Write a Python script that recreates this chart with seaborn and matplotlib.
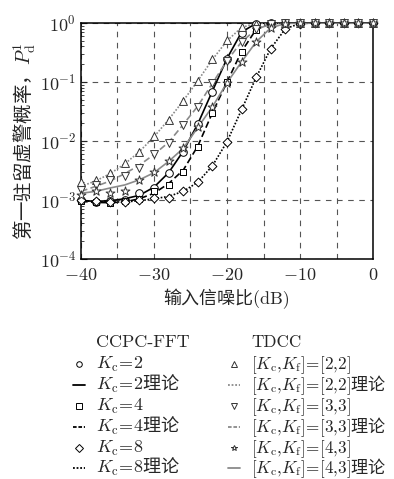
import numpy as np
import pandas as pd
import matplotlib
matplotlib.use("Agg")
import matplotlib.pyplot as plt
from matplotlib.lines import Line2D
from matplotlib.ticker import MultipleLocator, FuncFormatter, LogLocator
import seaborn as sns

sns.set_style("white")
plt.rcParams["font.family"] = ["cmr10", "Noto Sans CJK SC"]
plt.rcParams["mathtext.fontset"] = "custom"
plt.rcParams["mathtext.rm"] = "cmr10"
plt.rcParams["mathtext.it"] = "cmmi10"
plt.rcParams["mathtext.sf"] = "Noto Sans CJK SC"
plt.rcParams["mathtext.fallback"] = "cm"
plt.rcParams["axes.formatter.use_mathtext"] = True
plt.rcParams["axes.unicode_minus"] = True

# input SNR (dB)
snr = [-40, -38, -36, -34, -32, -30, -28, -26, -24, -22, -20,
       -18, -16, -14, -12, -10, -8, -6, -4, -2, 0]

# simulation, CCPC-FFT
kc2 = [0.001, 0.00093, 0.00097, 0.001, 0.0013, 0.0016, 0.0029, 0.0066, 0.0195, 0.069, 0.245,
       0.68, 0.98, 1, 1, 1, 1, 1, 1, 1, 1]
kc4 = [0.00095, 0.00092, 0.00089, 0.00095, 0.00105, 0.0014, 0.0018, 0.003, 0.008, 0.03, 0.1,
       0.32, 0.77, 0.97, 1, 1, 1, 1, 1, 1, 1]
kc8 = [0.001, 0.00095, 0.00092, 0.00094, 0.001, 0.00109, 0.0011, 0.0014, 0.002, 0.0038, 0.0097,
       0.035, 0.12, 0.36, 0.8, 0.97, 1, 1, 1, 1, 1]
# simulation, TDCC
t22 = [0.002, 0.0022, 0.0029, 0.0042, 0.0066, 0.012, 0.023, 0.048, 0.105, 0.245, 0.51,
       0.85, 0.98, 1, 1, 1, 1, 1, 1, 1, 1]
t33 = [0.0015, 0.0018, 0.0022, 0.0026, 0.0035, 0.006, 0.0093, 0.019, 0.038, 0.095, 0.23,
       0.48, 0.78, 0.96, 1, 1, 1, 1, 1, 1, 1]
t43 = [0.0012, 0.0014, 0.0013, 0.0014, 0.0022, 0.003, 0.0045, 0.0075, 0.017, 0.038, 0.097,
       0.22, 0.48, 0.83, 0.98, 1, 1, 1, 1, 1, 1]

# theory curves
kc2_th = [0.00098, 0.00095, 0.00097, 0.00105, 0.0012, 0.00165, 0.0029, 0.0067, 0.0195, 0.07, 0.25,
          0.7, 0.99, 1, 1, 1, 1, 1, 1, 1, 1]
kc4_th = [0.00095, 0.00091, 0.0009, 0.00093, 0.00105, 0.0013, 0.0019, 0.0032, 0.0082, 0.03, 0.1,
          0.33, 0.78, 0.98, 1, 1, 1, 1, 1, 1, 1]
kc8_th = [0.00098, 0.00094, 0.00092, 0.00093, 0.00097, 0.00105, 0.00115, 0.0014, 0.002, 0.0038, 0.0097,
          0.034, 0.12, 0.37, 0.8, 0.98, 1, 1, 1, 1, 1]
t22_th = [0.0017, 0.0021, 0.0028, 0.0041, 0.0066, 0.0118, 0.023, 0.048, 0.105, 0.24, 0.5,
          0.84, 0.99, 1, 1, 1, 1, 1, 1, 1, 1]
t33_th = [0.0014, 0.0017, 0.0021, 0.0028, 0.0039, 0.0059, 0.0095, 0.019, 0.039, 0.095, 0.23,
          0.48, 0.78, 0.96, 1, 1, 1, 1, 1, 1, 1]
t43_th = [0.0013, 0.0014, 0.0016, 0.0018, 0.0022, 0.0029, 0.0045, 0.0075, 0.017, 0.038, 0.097,
          0.22, 0.48, 0.83, 0.98, 1, 1, 1, 1, 1, 1]

W, H = 394, 479
fig = plt.figure(figsize=(W / 100, H / 100), dpi=100)
ax = fig.add_axes([81 / W, 1 - 259 / H, 292 / W, 236 / H])

grey = "#8a8a8a"
dk = "#333333"
dash = (0, (4, 2))
dot = (0, (1, 1))
theory = [
    (kc2_th, "black", "-"), (kc4_th, "black", dash), (kc8_th, "black", dot),
    (t22_th, grey, dot), (t33_th, grey, dash), (t43_th, grey, "-"),
]
for vals, c, ls in theory:
    sns.lineplot(x=snr, y=vals, ax=ax, color=c, linestyle=ls, linewidth=1.2, zorder=3)

sims = [
    (kc2, "o", "black", 30), (kc4, "s", "black", 24), (kc8, "D", "black", 20),
    (t22, "^", dk, 32), (t33, "v", dk, 32), (t43, "*", dk, 45),
]
for vals, m, c, s in sims:
    sns.scatterplot(x=snr, y=vals, ax=ax, marker=m, s=s, facecolor="white",
                    edgecolor=c, linewidth=0.7, zorder=4, clip_on=False)

ax.set_yscale("log")
ax.set_xlim(-40, 0)
ax.set_ylim(1e-4, 1)
ax.xaxis.set_major_locator(MultipleLocator(5))
ax.xaxis.set_major_formatter(FuncFormatter(
    lambda v, p: "$%d$" % v if abs(v % 10) < 1e-6 else ""))
ax.yaxis.set_minor_locator(LogLocator(base=10, subs=np.arange(2, 10)))
ax.tick_params(axis="x", length=0, labelsize=13, pad=6)
ax.tick_params(axis="y", which="major", direction="in", length=4, labelsize=13, left=True)
ax.tick_params(axis="y", which="minor", direction="in", length=2.5, left=True)
ax.grid(True, which="major", linestyle=(0, (5, 5)), color="#555555", linewidth=0.8)
for sp in ax.spines.values():
    sp.set_color("black")
    sp.set_linewidth(1.1)

ax.set_xlabel("输入信噪比(dB)", fontsize=13, labelpad=4)
ax.set_ylabel("$\\mathsf{第一驻留虚警概率，}P_\\mathrm{d}^{1}$", fontsize=14, labelpad=1)

# legend, laid out by hand in two titled columns
kc = "$K_\\mathrm{c}\\!=\\!%d%s$"
kk = "$[K_\\mathrm{c}{,}K_\\mathrm{f}]\\!=\\![%s]%s$"
th = "\\mathsf{理论}"
col1 = [("CCPC-FFT", None, None, None),
        (kc % (2, ""), "o", "none", "black"), (kc % (2, th), None, "-", "black"),
        (kc % (4, ""), "s", "none", "black"), (kc % (4, th), None, (0, (2, 1)), "black"),
        (kc % (8, ""), "D", "none", "black"), (kc % (8, th), None, dot, "black")]
col2 = [("TDCC", None, None, None),
        (kk % ("2{,}2", ""), "^", "none", dk), (kk % ("2{,}2", th), None, dot, grey),
        (kk % ("3{,}3", ""), "v", "none", dk), (kk % ("3{,}3", th), None, (0, (2, 1)), grey),
        (kk % ("4{,}3", ""), "*", "none", dk), (kk % ("4{,}3", th), None, "-", grey)]
rows = [342, 364, 385, 406, 427, 448, 468]
for col, hx, tx, fs in [(col1, 79, 96, 13), (col2, 234, 251, 12.3)]:
    for (lab, m, ls, c), y in zip(col, rows):
        fig.text(tx / W, 1 - (y + 5) / H, lab, fontsize=fs, va="baseline", ha="left")
        if c is None:
            continue
        if m is not None:
            fig.add_artist(Line2D([hx / W], [1 - y / H], marker=m, linestyle="none",
                                  markersize=4, markerfacecolor="white", markeredgecolor=c,
                                  markeredgewidth=0.7))
        else:
            fig.add_artist(Line2D([(hx - 6) / W, (hx + 6) / W], [1 - y / H, 1 - y / H],
                                  linestyle=ls, color=c, linewidth=1.3))

fig.savefig("out.png", dpi=100)
